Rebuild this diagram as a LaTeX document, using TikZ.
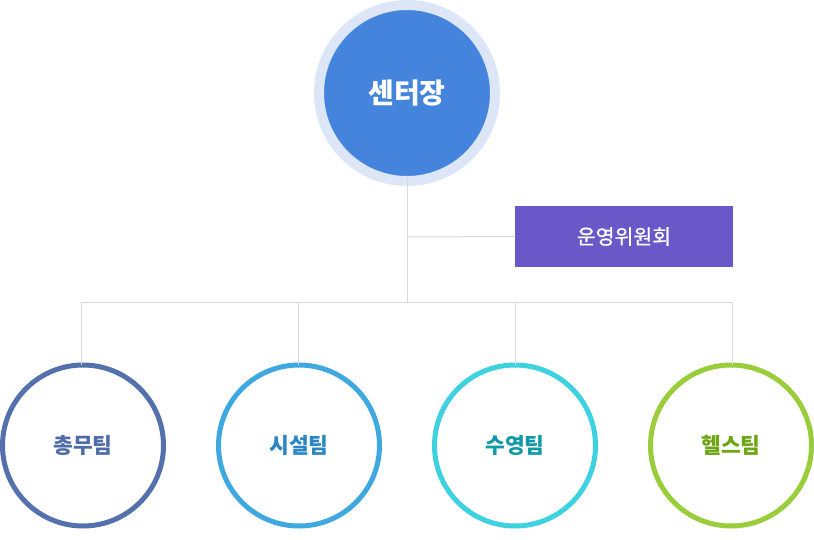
\documentclass[tikz,border=0pt]{standalone}
\usepackage{fontspec}
\setmainfont{Noto Sans CJK KR}
\newfontfamily\medfont[FakeBold=1]{Noto Sans CJK KR}
\definecolor{halo}{HTML}{DCE6F7}
\definecolor{topfill}{HTML}{4484DD}
\definecolor{boxfill}{HTML}{6B58C8}
\definecolor{linec}{HTML}{D9D9D9}
\definecolor{c1}{HTML}{5470AD}
\definecolor{t1}{HTML}{4F6BA8}
\definecolor{c2}{HTML}{3FA8E0}
\definecolor{t2}{HTML}{2A86C4}
\definecolor{c3}{HTML}{3ED2E0}
\definecolor{t3}{HTML}{1199A8}
\definecolor{c4}{HTML}{9ACD3C}
\definecolor{t4}{HTML}{6EA515}
\tikzset{
  conn/.style={draw=linec, line width=1pt},
  team/.style={circle, draw=#1, line width=5pt, fill=white, minimum size=161pt, inner sep=0pt, outer sep=0pt, font=\fontsize{21.5}{26}\selectfont\bfseries},
}
\begin{document}
\begin{tikzpicture}[x=1pt,y=1pt]
\useasboundingbox (0,0) rectangle (814,-539);
\node[circle, fill=topfill, draw=halo, line width=10pt, minimum size=176pt, inner sep=0pt, outer sep=0pt, text=white, font=\fontsize{28}{32}\selectfont\bfseries] (top) at (407,-93) {센터장};
\node[fill=boxfill, minimum width=218pt, minimum height=61pt, inner sep=0pt, outer sep=0pt, text=white, font=\fontsize{20.5}{24}\medfont] (box) at (624,-236.5) {운영위원회};
\coordinate (hub) at (407,-302);
\coordinate (br) at (407,-237);
\node[team=c1, text=t1] (t1) at (83,-445.5) {총무팀};
\node[team=c2, text=t2] (t2) at (299,-445.5) {시설팀};
\node[team=c3, text=t3] (t3) at (515,-445.5) {수영팀};
\node[team=c4, text=t4] (t4) at (731,-445.5) {헬스팀};
\coordinate (j1) at (81.5,-302);
\coordinate (j4) at (732.5,-302);
\draw[conn] ([yshift=5pt]top.south) -- (hub);
\draw[conn] (br) -- (box.west);
\draw[conn] (j1 |- t1.north) -- (j1) -- (j4) -- (j4 |- t4.north);
\draw[conn] (t2.north -| 298.5,0) -- (298.5,-302);
\draw[conn] (t3.north -| 515.5,0) -- (515.5,-302);
\end{tikzpicture}
\end{document}
